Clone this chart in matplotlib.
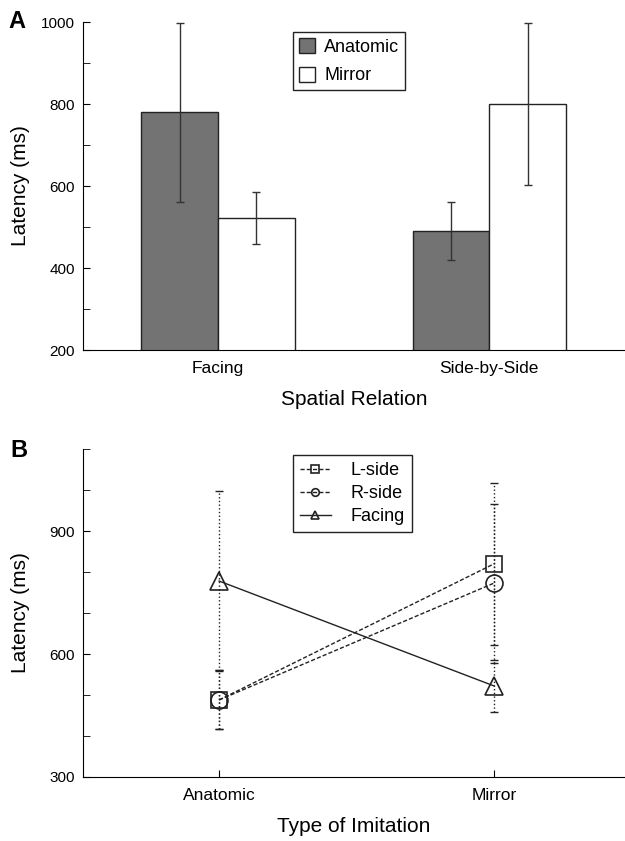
import numpy as np
import matplotlib.pyplot as plt
from matplotlib.ticker import MultipleLocator

plt.rcParams['font.family'] = ['Liberation Sans', 'DejaVu Sans']

# Panel A data
relations = ['Facing', 'Side-by-Side']
anat_mean = [780, 490]
anat_err = [218, 70]
mirr_mean = [522, 800]
mirr_err = [64, 197]

# Panel B data
imitation = ['Anatomic', 'Mirror']
lside = [488, 820]
lside_err = [72, 197]
rside = [488, 773]
rside_err = [72, 194]
facing = [778, 522]
facing_err = [220, 64]

fig = plt.figure(figsize=(6.25, 8.41), dpi=100)

# --- A ---
axA = fig.add_axes([0.1328, 0.5838, 0.8672, 0.39])
x = np.arange(len(relations))
w = 0.283
axA.bar(x - w / 2, anat_mean, w, color='#737373', edgecolor='#222222',
        linewidth=1, label='Anatomic', zorder=2)
axA.bar(x + w / 2, mirr_mean, w, color='white', edgecolor='#222222',
        linewidth=1, label='Mirror', zorder=2)
axA.errorbar(x - w / 2, anat_mean, yerr=anat_err, fmt='none', ecolor='#333333',
             elinewidth=1, capsize=3, capthick=1, zorder=3)
axA.errorbar(x + w / 2, mirr_mean, yerr=mirr_err, fmt='none', ecolor='#333333',
             elinewidth=1, capsize=3, capthick=1, zorder=3)
axA.set_ylim(200, 1000)
axA.set_xlim(-0.498, 1.5)
axA.yaxis.set_major_locator(MultipleLocator(200))
axA.yaxis.set_minor_locator(MultipleLocator(100))
axA.set_xticks(x)
axA.set_xticklabels(relations, fontsize=12.5)
axA.tick_params(axis='x', length=0, pad=8)
axA.tick_params(axis='y', which='both', direction='in', length=5, labelsize=11, pad=6)
axA.spines['top'].set_visible(False)
axA.spines['right'].set_visible(False)
axA.set_ylabel('Latency (ms)', fontsize=15)
axA.yaxis.set_label_coords(-0.098, 0.5)
axA.set_xlabel('Spatial Relation', fontsize=15, labelpad=10)
leg = axA.legend(loc='upper left', bbox_to_anchor=(0.387, 0.97), fontsize=13,
                 fancybox=False, framealpha=1, edgecolor='#222222',
                 handlelength=0.9, handleheight=0.9, handletextpad=0.5,
                 borderpad=0.34, labelspacing=0.6, borderaxespad=0)
leg.get_frame().set_linewidth(1)
fig.text(0.014, 0.974, 'A', fontsize=17, fontweight='bold', va='center')

# --- B ---
axB = fig.add_axes([0.1328, 0.0761, 0.8672, 0.39])
xb = np.arange(len(imitation))
series = [
    (lside, lside_err, 's', (0, (3, 1.5)), 'L-side', 12.2),
    (rside, rside_err, 'o', (0, (3, 1.5)), 'R-side', 12.2),
    (facing, facing_err, '^', '-', 'Facing', 13.5),
]
for vals, errs, mk, ls, lab, ms in series:
    eb = axB.errorbar(xb, vals, yerr=errs, fmt='none', ecolor='#222222',
                      elinewidth=1, capsize=3, capthick=1)
    eb[2][0].set_linestyle(':')
    axB.plot(xb, vals, linestyle=ls, color='#222222', linewidth=1, marker=mk,
             markersize=ms, markerfacecolor='none', markeredgecolor='#222222',
             markeredgewidth=1.2, label=lab)
axB.set_ylim(300, 1100)
axB.set_xlim(-0.495, 1.476)
axB.yaxis.set_major_locator(MultipleLocator(300))
axB.yaxis.set_minor_locator(MultipleLocator(100))
axB.set_xticks(xb)
axB.set_xticklabels(imitation, fontsize=12.5)
axB.tick_params(axis='x', direction='in', length=5, pad=8)
axB.tick_params(axis='y', which='both', direction='in', length=5, labelsize=11, pad=6)
axB.spines['top'].set_visible(False)
axB.spines['right'].set_visible(False)
axB.set_ylabel('Latency (ms)', fontsize=15)
axB.yaxis.set_label_coords(-0.098, 0.5)
axB.set_xlabel('Type of Imitation', fontsize=15, labelpad=10)
legB = axB.legend(loc='upper left', bbox_to_anchor=(0.387, 0.982), fontsize=13,
                  fancybox=False, framealpha=1, edgecolor='#222222',
                  handlelength=1.7, handletextpad=1.1, borderpad=0.4,
                  labelspacing=0.33, markerscale=0.45, borderaxespad=0)
legB.get_frame().set_linewidth(1)
fig.text(0.016, 0.464, 'B', fontsize=17, fontweight='bold', va='center')

fig.savefig('out.png', dpi=100)
